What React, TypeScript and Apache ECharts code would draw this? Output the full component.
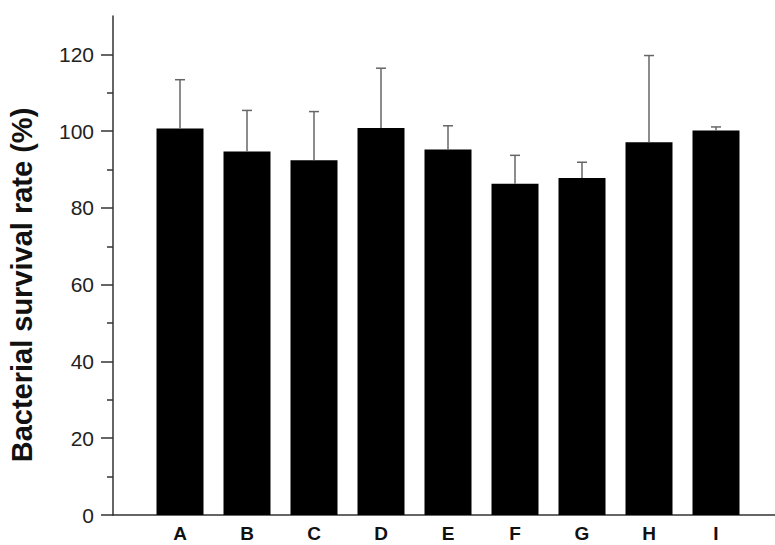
import React, { useEffect, useRef } from "react";
import * as echarts from "echarts";

const categories = ["A", "B", "C", "D", "E", "F", "G", "H", "I"];
const survivalMean = [100.7, 94.7, 92.4, 100.8, 95.2, 86.3, 87.8, 97.1, 100.2];
const survivalUpper = [113.4, 105.4, 105.1, 116.4, 101.4, 93.7, 91.9, 119.7, 101.1];
const yMajorTicks = [0, 20, 40, 60, 80, 100, 120];
const yMinorTicks = [10, 30, 50, 70, 90, 110];
const yTitle = "Bacterial survival rate (%)";

export default function App() {
  const ref = useRef<HTMLDivElement>(null);
  useEffect(() => {
    if (!ref.current) return;
    const chart = echarts.init(ref.current, null, { renderer: "svg" });
    const positions = categories.map((_, i) => i + 1);
    const barData = categories.map((_, i) => [positions[i], survivalMean[i]]);
    const errData = categories.map((_, i) => [positions[i], survivalMean[i], survivalUpper[i]]);
    const font = "'Liberation Sans', Arial, Helvetica, sans-serif";
    chart.setOption({
      animation: false,
      backgroundColor: "#ffffff",
      grid: {
        left: 113,
        right: -8,
        top: 16,
        bottom: 30,
        outerBoundsMode: "none",
        containLabel: false,
      },
      xAxis: {
        type: "value",
        min: 0,
        max: 10,
        interval: 1,
        splitLine: { show: false },
        axisLine: { show: true, lineStyle: { color: "#333", width: 1.5 } },
        axisTick: { show: false },
        axisLabel: {
          customValues: positions,
          formatter: (v: number) => categories[Math.round(v) - 1] ?? "",
          color: "#111",
          fontFamily: font,
          fontWeight: "bold",
          fontSize: 19,
          lineHeight: 19,
          margin: 9,
        },
      },
      yAxis: [
        {
          type: "value",
          min: 0,
          max: 130,
          position: "left",
          splitLine: { show: false },
          axisLine: { show: true, onZero: false, lineStyle: { color: "#333", width: 1.5 } },
          axisTick: {
            show: true,
            inside: false,
            length: 12,
            customValues: yMajorTicks,
            lineStyle: { color: "#333", width: 1.5 },
          },
          axisLabel: {
            customValues: yMajorTicks,
            color: "#222",
            fontFamily: font,
            fontSize: 21,
            margin: 19,
          },
        },
        {
          type: "value",
          min: 0,
          max: 130,
          position: "left",
          splitLine: { show: false },
          axisLine: { show: false },
          axisTick: {
            show: true,
            inside: false,
            length: 6,
            customValues: yMinorTicks,
            lineStyle: { color: "#333", width: 1.5 },
          },
          axisLabel: { show: false },
        },
      ],
      graphic: [
        {
          type: "text",
          x: 22,
          y: 285,
          rotation: Math.PI / 2,
          style: {
            text: yTitle,
            fill: "#111",
            font: `bold 29px ${font}`,
            align: "center",
            verticalAlign: "middle",
          },
        },
      ],
      series: [
        {
          type: "bar",
          data: barData,
          barWidth: 47,
          itemStyle: { color: "#000" },
          z: 2,
        },
        {
          type: "custom",
          data: errData,
          z: 3,
          renderItem: (params: any, api: any) => {
            const x = api.value(0);
            const mean = api.value(1);
            const top = api.value(2);
            const p0 = api.coord([x, mean]);
            const p1 = api.coord([x, top]);
            const half = 5;
            const style = { stroke: "#666", lineWidth: 1.5 };
            return {
              type: "group",
              children: [
                { type: "line", shape: { x1: p0[0], y1: p0[1], x2: p1[0], y2: p1[1] }, style },
                { type: "line", shape: { x1: p1[0] - half, y1: p1[1], x2: p1[0] + half, y2: p1[1] }, style },
              ],
            };
          },
        },
      ],
    });
    return () => chart.dispose();
  }, []);
  return (
    <div
      ref={ref}
      style={{ position: "absolute", left: 0, top: 0, width: 775, height: 545 }}
    />
  );
}
